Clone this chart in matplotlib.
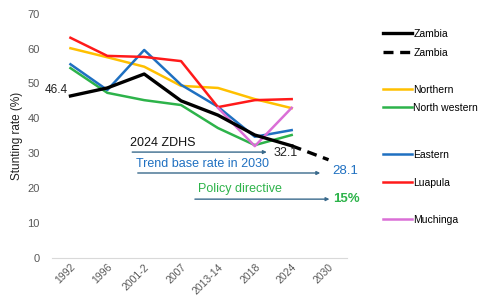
import matplotlib
matplotlib.use("Agg")
import matplotlib.pyplot as plt
from matplotlib.lines import Line2D

plt.rcParams["font.family"] = ["Liberation Sans", "DejaVu Sans"]

# ---------------------------------------------------------------------------
#  Data
# ---------------------------------------------------------------------------
years = ["1992", "1996", "2001-2", "2007", "2013-14", "2018", "2024", "2030"]

zambia = [46.4, 48.7, 52.7, 45.0, 40.9, 35.2, 32.1]
zambia_proj_x = [6, 7]
zambia_proj = [32.1, 28.1]

northern = [60.1, 57.5, 54.8, 49.3, 48.7, 45.5, 42.9]
north_western = [54.4, 47.3, 45.2, 43.8, 37.2, 32.3, 35.2]
eastern = [55.5, 48.1, 59.6, 49.6, 43.3, 34.7, 36.6]
luapula = [63.1, 57.9, 57.6, 56.4, 43.2, 45.2, 45.5]
muchinga_x = [4, 5, 6]
muchinga = [43.0, 32.0, 43.0]

c_yellow = "#FFC000"
c_green = "#2DB34A"
c_blue = "#1F70C1"
c_red = "#FF1A1A"
c_pink = "#DA6FD6"
c_arrow = "#3A6A8C"

# ---------------------------------------------------------------------------
fig = plt.figure(figsize=(4.79, 2.96), dpi=100)
ax = fig.add_axes([0.1086, 0.1294, 0.6158, 0.8243])

x = list(range(len(zambia)))
ax.plot(x, northern, color=c_yellow, lw=1.8)
ax.plot(x, north_western, color=c_green, lw=1.8)
ax.plot(x, eastern, color=c_blue, lw=1.8)
ax.plot(x, luapula, color=c_red, lw=1.8)
ax.plot(muchinga_x, muchinga, color=c_pink, lw=1.8)
ax.plot(x, zambia, color="black", lw=2.4)
ax.plot(zambia_proj_x, zambia_proj, color="black", lw=2.4, ls=(0, (3, 2)))

ax.set_xlim(-0.5, 7.5)
ax.set_ylim(0, 70)
ax.set_xticks(range(len(years)))
ax.set_xticklabels(years, rotation=45, ha="right", rotation_mode="anchor")
ax.set_yticks(range(0, 71, 10))
ax.tick_params(axis="both", length=0, labelsize=8, labelcolor="#595959")
ax.tick_params(axis="x", pad=3, labelsize=7.5)
ax.tick_params(axis="y", pad=9)
for s in ["top", "right", "left"]:
    ax.spines[s].set_visible(False)
ax.spines["bottom"].set_color("#D9D9D9")
ax.set_ylabel("Stunting rate (%)", fontsize=8.5, color="#222222", labelpad=3)

# annotations
ax.text(-0.08, 48.2, "46.4", fontsize=8.5, ha="right", va="center", color="#222222")

arrow = dict(arrowstyle="-|>", color=c_arrow, lw=1, mutation_scale=5)
ax.annotate("", xy=(5.4, 30.3), xytext=(1.6, 30.3), arrowprops=arrow)
ax.text(1.62, 31.2, "2024 ZDHS", fontsize=9, color="#111111", va="bottom")
ax.text(5.5, 30.0, "32.1", fontsize=9, color="#222222", va="center")

ax.annotate("", xy=(6.85, 24.3), xytext=(1.75, 24.3), arrowprops=arrow)
ax.text(1.77, 25.2, "Trend base rate in 2030", fontsize=9, color=c_blue, va="bottom")
ax.text(7.1, 25.0, "28.1", fontsize=9.5, color=c_blue, va="center")

ax.annotate("", xy=(7.1, 16.8), xytext=(3.3, 16.8), arrowprops=arrow)
ax.text(3.45, 17.9, "Policy directive", fontsize=9, color=c_green, va="bottom")
ax.text(7.12, 16.8, "15%", fontsize=9.5, color=c_green, va="center", fontweight="bold")

# legend entries at irregular heights
entries = [
    (Line2D([], [], color="black", lw=2.4), "Zambia", 34),
    (Line2D([], [], color="black", lw=2.4, ls=(0, (3, 2))), "Zambia", 53),
    (Line2D([], [], color=c_yellow, lw=1.8), "Northern", 90),
    (Line2D([], [], color=c_green, lw=1.8), "North western", 108),
    (Line2D([], [], color=c_blue, lw=1.8), "Eastern", 155),
    (Line2D([], [], color=c_red, lw=1.8), "Luapula", 183),
    (Line2D([], [], color=c_pink, lw=1.8), "Muchinga", 220),
]
for h, lab, ypix in entries:
    fig.legend([h], [lab], loc="center left",
               bbox_to_anchor=(383 / 479, 1 - ypix / 296),
               frameon=False, fontsize=7.5, handlelength=2.8,
               handletextpad=0.1, borderpad=0, borderaxespad=0)

fig.savefig("out.png", dpi=100)
